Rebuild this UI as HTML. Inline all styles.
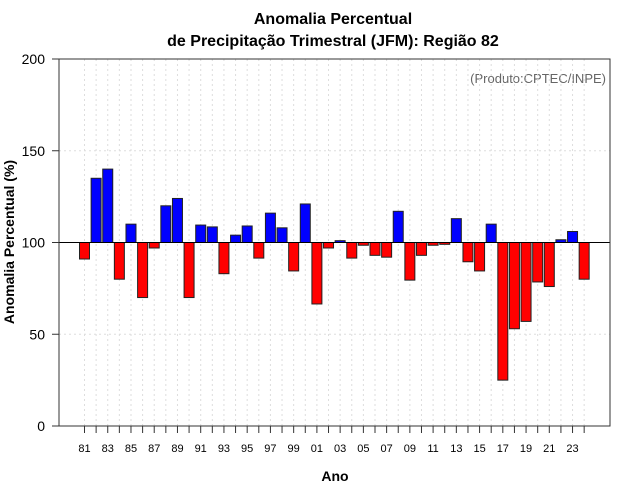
<!DOCTYPE html>
<html><head><meta charset="utf-8"><style>
body{margin:0;background:#fff;}
svg{display:block;font-family:"Liberation Sans",Arial,sans-serif;}
</style></head><body>
<svg id="chart" width="640" height="500">
<text x="333" y="24" text-anchor="middle" font-size="16" font-weight="bold">Anomalia Percentual</text>
<text x="333" y="46" text-anchor="middle" font-size="16" font-weight="bold">de Precipitação Trimestral (JFM): Região 82</text>
<text x="606" y="83" text-anchor="end" font-size="13" fill="#666">(Produto:CPTEC/INPE)</text>
<text x="335" y="481" text-anchor="middle" font-size="14" font-weight="bold">Ano</text>
<text transform="translate(14,242) rotate(-90)" text-anchor="middle" font-size="14" font-weight="bold">Anomalia Percentual (%)</text>
<g id="grid"></g><g id="bars"></g><g id="axes"></g>
</svg>
<script>
const years=[81,82,83,84,85,86,87,88,89,90,91,92,93,94,95,96,97,98,99,0,1,2,3,4,5,6,7,8,9,10,11,12,13,14,15,16,17,18,19,20,21,22,23,24];
const values=[91,135,140,80,110,70,97,120,124,70,109.5,108.5,83,104,109,91.5,116,108,84.5,121,66.5,97,101,91.5,98.5,93,92,117,79.5,93,98.5,99,113,89.5,84.5,110,25,53,57,78.5,76,101.5,106,80];
const yTicks=[0,50,100,150,200];
const NS='http://www.w3.org/2000/svg';
const L=59,R=610,T=59,B=426;
function yS(v){return B-(v/200)*(B-T);}
function xS(i){return 84.5+i*11.62;}
function mk(tag,attrs,parent){const e=document.createElementNS(NS,tag);for(const k in attrs)e.setAttribute(k,attrs[k]);document.getElementById(parent).appendChild(e);return e;}
const lab=y=>String(y).padStart(2,'0');
years.forEach((y,i)=>{
 const g=mk('line',{x1:xS(i),x2:xS(i),y1:T,y2:B,stroke:'#ddd','stroke-dasharray':'2,3'},'grid');
 
 
});
yTicks.forEach(v=>{
 if(v>0&&v<200){const g=mk('line',{x1:L,x2:R,y1:yS(v),y2:yS(v),stroke:'#ddd','stroke-dasharray':'2,3'},'grid');
 
 }
 const t=mk('line',{x1:L-7,x2:L,y1:yS(v),y2:yS(v),stroke:'#333'},'axes');
 
 
 const tx=mk('text',{x:L-14,y:yS(v)+5,'text-anchor':'end','font-size':'14'},'axes');
 tx.textContent=v;
 
 
});
values.forEach((v,i)=>{
 const y0=yS(100),y1=yS(v);
 const r=mk('rect',{x:xS(i)-5,y:Math.min(y0,y1),width:10,height:Math.abs(y1-y0),fill:v>=100?'#0000ff':'#ff0000',stroke:'#222','stroke-width':1},'bars');
 
 
 const t=mk('line',{x1:xS(i),x2:xS(i),y1:B,y2:B+7,stroke:'#333'},'axes');
 
 
 if(i%2===0){const tx=mk('text',{x:xS(i),y:452,'text-anchor':'middle','font-size':'11'},'axes');
 tx.textContent=lab(years[i]);
 
 }
});
const ref=mk('line',{x1:L,x2:R,y1:yS(100),y2:yS(100),stroke:'#000','stroke-width':1},'axes');


const box=mk('rect',{x:L,y:T,width:R-L,height:B-T,fill:'none',stroke:'#333'},'axes');


</script>
</body></html>
